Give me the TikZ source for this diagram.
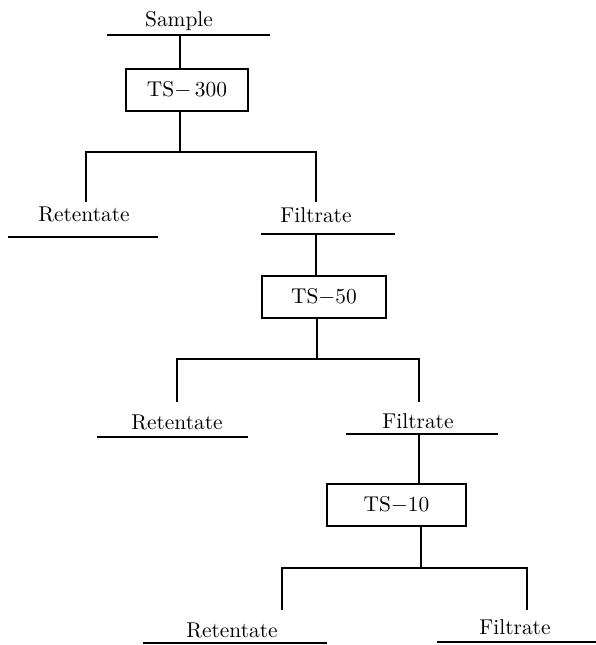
\documentclass[tikz,border=0pt]{standalone}
\usepackage{tikz}
\usetikzlibrary{positioning,calc}
\tikzset{
  unit/.style={rectangle, draw, line width=0.8pt, inner sep=0pt,
               font=\fontsize{10.7}{12}\selectfont, minimum height=21pt},
  lbl/.style={anchor=base, inner sep=0pt, font=\fontsize{10.7}{12}\selectfont},
  bar/.style={line width=1pt},
  fl/.style={line width=1pt},
}

\begin{document}
\begin{tikzpicture}[x=0.5pt, y=-0.5pt]
\useasboundingbox (0,0) rectangle (596,645);
% sample and first membrane
\node[lbl] (sample) at (179,26) {Sample};
\coordinate (sampL) at (107,34.5);
\coordinate (sampR) at (270,34.5);
\draw[bar] (sampL) -- (sampR);
\coordinate (feed1) at (180,34.5);
\node[unit, minimum width=61pt] (ts300) at (187,90) {TS$-$\,300};
\draw[fl] (feed1) -- (feed1 |- ts300.north);
\coordinate (fork1) at (180,152);
\coordinate (ret1top) at (86,202);
\coordinate (fil1top) at (316,202);
\draw[fl] (ts300.south -| fork1) -- (fork1);
\draw[fl] (ret1top) |- (fork1) -| (fil1top);
\node[lbl] (ret1) at (84,221) {Retentate};
\coordinate (ret1L) at (8,237);
\coordinate (ret1R) at (158,237);
\draw[bar] (ret1L) -- (ret1R);
\node[lbl] (fil1) at (316,222) {Filtrate};
\coordinate (fil1L) at (261,234);
\coordinate (fil1R) at (395,234);
\draw[bar] (fil1L) -- (fil1R);
% second membrane
\coordinate (feed2) at (316,234);
\node[unit, minimum width=62pt] (ts50) at (324,297) {TS$-$50};
\draw[fl] (feed2) -- (feed2 |- ts50.north);
\coordinate (fork2) at (317,359);
\coordinate (ret2top) at (177,402);
\coordinate (fil2top) at (419,402);
\draw[fl] (ts50.south -| fork2) -- (fork2);
\draw[fl] (ret2top) |- (fork2) -| (fil2top);
\node[lbl] (ret2) at (177,429) {Retentate};
\coordinate (ret2L) at (97,437);
\coordinate (ret2R) at (248,437);
\draw[bar] (ret2L) -- (ret2R);
\node[lbl] (fil2) at (418,428) {Filtrate};
\coordinate (fil2L) at (346,434);
\coordinate (fil2R) at (498,434);
\draw[bar] (fil2L) -- (fil2R);
% third membrane
\coordinate (feed3) at (419,434);
\node[unit, minimum width=69.5pt] (ts10) at (396.5,505) {TS$-$10};
\draw[fl] (feed3) -- (feed3 |- ts10.north);
\coordinate (fork3) at (421,568);
\coordinate (ret3top) at (282,610);
\coordinate (fil3top) at (527,610);
\draw[fl] (ts10.south -| fork3) -- (fork3);
\draw[fl] (ret3top) |- (fork3) -| (fil3top);
\node[lbl] (ret3) at (232,637) {Retentate};
\coordinate (ret3L) at (143,643);
\coordinate (ret3R) at (327,643);
\draw[bar] (ret3L) -- (ret3R);
\node[lbl] (fil3) at (515,634) {Filtrate};
\coordinate (fil3L) at (437,642);
\coordinate (fil3R) at (596,642);
\draw[bar] (fil3L) -- (fil3R);
\end{tikzpicture}
\end{document}
